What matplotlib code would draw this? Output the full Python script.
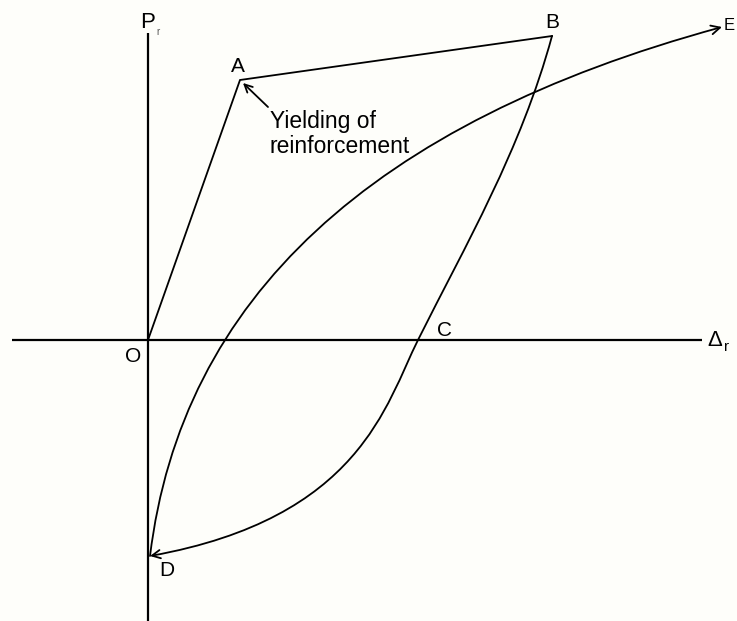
import matplotlib
matplotlib.use("Agg")
import matplotlib.pyplot as plt
from matplotlib.path import Path
from matplotlib.patches import FancyArrowPatch

# key points of the load-deflection diagram (origin at O)
pt_O = (0, 0)
pt_A = (92, 260)
pt_B = (404, 304)
pt_C = (270, 0)
pt_D = (2, -216)
pt_E = (574, 313)

# bezier control points for the curved branches
ctrl_DE = [(49, 170)]
ctrl_BC = [(373, 190), (317, 94)]
ctrl_CD = [(238, -64), (212, -178)]

x_axis = (-136, 554)
y_axis = (-281, 307)

labels = ["O", "A", "B", "C", "D", "E"]
label_pos = [(-15, -17), (90, 274), (404, 318), (297, 10), (19, -230), (576, 314)]

fig = plt.figure(figsize=(7.37, 6.21), dpi=100)
fig.patch.set_facecolor("#fefefa")
ax = fig.add_axes([0, 0, 1, 1])
ax.set_facecolor("#fefefa")
ax.set_xlim(-148, 589)
ax.set_ylim(-281, 340)
ax.axis("off")

FONT = "Liberation Sans"
FS = 15

# axes through O
ax.plot(x_axis, [0, 0], color="black", lw=1.6, solid_capstyle="butt")
ax.plot([0, 0], y_axis, color="black", lw=1.6, solid_capstyle="butt")

# loading branch O-A-B
ax.plot([pt_O[0], pt_A[0], pt_B[0]], [pt_O[1], pt_A[1], pt_B[1]],
        color="black", lw=1.3, solid_joinstyle="miter")

# unloading branch B-C-D
p_bd = Path([pt_B, ctrl_BC[0], ctrl_BC[1], pt_C, ctrl_CD[0], ctrl_CD[1], pt_D],
            [Path.MOVETO] + [Path.CURVE4] * 6)
ax.add_patch(FancyArrowPatch(path=p_bd, arrowstyle="->", mutation_scale=15,
                             color="black", lw=1.3, shrinkA=0, shrinkB=0))

# reloading branch D-E
p_de = Path([pt_D, ctrl_DE[0], pt_E], [Path.MOVETO, Path.CURVE3, Path.CURVE3])
ax.add_patch(FancyArrowPatch(path=p_de, arrowstyle="->", mutation_scale=16,
                             color="black", lw=1.3, shrinkA=0, shrinkB=0))

for lab, (lx, ly) in zip(labels, label_pos):
    ha = "left" if lab == "E" else "center"
    fs = 12 if lab == "E" else FS
    ax.text(lx, ly, lab, fontsize=fs, family=FONT, ha=ha, va="center")

# axis titles
ax.text(0, 317, "P", fontsize=FS + 1, family=FONT, ha="center", va="center")
ax.text(10, 308, "r", fontsize=7, family=FONT, ha="center", va="center", color="#555555")
ax.text(567, 0, "\u0394", fontsize=FS + 1, family=FONT, ha="center", va="center")
ax.text(579, -7, "r", fontsize=11, family=FONT, ha="center", va="center")

# annotation at A
ax.annotate("", xy=(95, 257), xytext=(120, 233),
            arrowprops=dict(arrowstyle="->", color="black", lw=1.3, mutation_scale=14,
                            shrinkA=0, shrinkB=0))
ax.text(122, 206, "Yielding of\nreinforcement", fontsize=16.5, family=FONT,
        ha="left", va="center", linespacing=1.15)

fig.savefig("out.png", dpi=100, facecolor=fig.get_facecolor())
